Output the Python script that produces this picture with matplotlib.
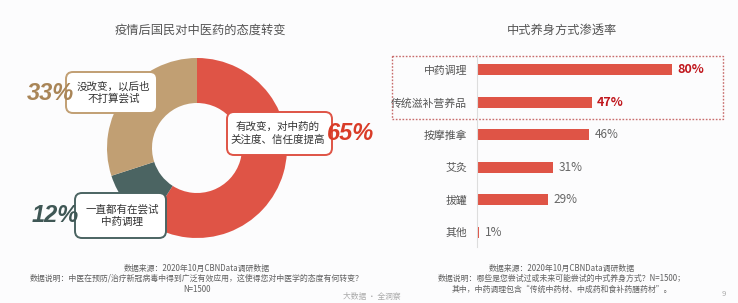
import matplotlib
matplotlib.use("Agg")
import matplotlib.pyplot as plt
from matplotlib.patches import FancyBboxPatch, Rectangle

plt.rcParams['font.family'] = ['Noto Sans CJK SC', 'DejaVu Sans']

# ---- data ----
pie_title = "疫情后国民对中医药的态度转变"
pie_labels = ["有改变，对中药的\n关注度、信任度提高", "一直都有在尝试\n中药调理", "没改变，以后也\n不打算尝试"]
pie_values = [65, 12, 33]
pie_colors = ["#DF5446", "#4B6462", "#C19F73"]

bar_title = "中式养身方式渗透率"
bar_cats = ["中药调理", "传统滋补营养品", "按摩推拿", "艾灸", "拔罐", "其他"]
bar_vals = [80, 47, 46, 31, 29, 1]
highlight = [True, True, False, False, False, False]

W, H = 738, 303
bg = "#FCFCFD"
fig = plt.figure(figsize=(W / 100, H / 100), dpi=100, facecolor=bg)

def fx(px):
    return px / W

def fy(py):
    return 1 - py / H

# ---- donut ----
cx, cy, R = 197, 148, 90
axp = fig.add_axes([fx(cx - R), fy(cy + R), 2 * R / W, 2 * R / H])
axp.pie(pie_values, colors=pie_colors, startangle=90, counterclock=False,
        radius=1, wedgeprops=dict(width=0.5, edgecolor='none'))
axp.set_xlim(-1, 1)
axp.set_ylim(-1, 1)
axp.set_aspect('auto')
axp.axis('off')

# ---- overlay axes in pixel coords ----
ov = fig.add_axes([0, 0, 1, 1], facecolor='none')
ov.set_xlim(0, W)
ov.set_ylim(H, 0)
ov.axis('off')

ov.text(200, 30, pie_title, ha='center', va='center', fontsize=8.8, color='#555555')

# label boxes: (x0, y0, x1, y1), pct position, pct alignment
boxes = [
    ((227, 112, 332, 155), (327, 133), 'left'),
    ((75, 193, 166, 238), (79, 216), 'right'),
    ((66, 72, 157, 113), (74, 94), 'right'),
]
pct_colors = ["#D93C28", "#3F5755", "#A98557"]
for (x0, y0, x1, y1), (px, py), al, lab, val, col, pc in zip(
        [b[0] for b in boxes], [b[1] for b in boxes], [b[2] for b in boxes],
        pie_labels, pie_values, pie_colors, pct_colors):
    ov.add_patch(FancyBboxPatch((x0, y0), x1 - x0, y1 - y0,
                                boxstyle="round,pad=0,rounding_size=7",
                                facecolor='white', edgecolor=col, lw=1.4, zorder=3))
    ov.text((x0 + x1) / 2 + (2 if al == 'right' else -2), (y0 + y1) / 2, lab,
            ha='center', va='center',
            fontsize=7.6, color='#333333', linespacing=1.25, zorder=4)
    ov.text(px, py, f"{val}%", ha=al, va='center', fontsize=17,
            fontweight='bold', style='italic', color=pc,
            family=['Liberation Sans', 'DejaVu Sans'], zorder=5)

foot_l = ["数据来源：2020年10月CBNData调研数据",
          "数据说明：中医在预防/治疗新冠病毒中得到广泛有效应用，这使得您对中医学的态度有何转变？",
          "N=1500"]
for i, t in enumerate(foot_l):
    ov.text(197, 268 + i * 10.5, t, ha='center', va='center', fontsize=5.7, color='#606060')

# ---- bars ----
ax0, ax1 = 477, 721
ay0, ay1 = 55, 247
axb = fig.add_axes([fx(ax0), fy(ay1), (ax1 - ax0) / W, (ay1 - ay0) / H], facecolor='none')
ypos = list(range(len(bar_cats)))
axb.barh(ypos, bar_vals, height=0.34, color="#DF5446", edgecolor='none')
axb.set_xlim(0, 100)
axb.set_ylim(len(bar_cats) - 1 + 0.46, -0.46)
axb.set_yticks(ypos)
axb.set_yticklabels(bar_cats, fontsize=7.8, color='#555555')
axb.tick_params(axis='y', length=0, pad=7)
axb.set_xticks([])
for s in ['top', 'right', 'bottom']:
    axb.spines[s].set_visible(False)
axb.spines['left'].set_color('#DDDDDD')
axb.spines['left'].set_linewidth(0.8)
for y, v, h in zip(ypos, bar_vals, highlight):
    axb.annotate(f"{v}%", (v, y), xytext=(4, 0), textcoords='offset points',
                 ha='left', va='center', fontsize=9 if h else 8.5,
                 fontweight='bold' if h else 'normal',
                 color='#C0161C' if h else '#666666', annotation_clip=False)

ov.text(562, 30, bar_title, ha='center', va='center', fontsize=8.8, color='#555555')
ov.add_patch(Rectangle((392, 56), 331, 63, fill=False, edgecolor='#C86B6B',
                       lw=1.0, linestyle=(0, (1.2, 1.2)), zorder=2))

foot_r = ["数据来源：2020年10月CBNData调研数据",
          "数据说明：哪些是您尝试过或未来可能尝试的中式养身方式？N=1500；",
          "其中，中药调理包含“传统中药材、中成药和食补药膳药材”。"]
for i, t in enumerate(foot_r):
    ov.text(562, 268 + i * 10.5, t, ha='center', va='center', fontsize=5.7, color='#606060')

ov.text(372, 297, "大数据 · 全洞察", ha='center', va='center', fontsize=5.6, color='#AAAAAA')
ov.text(724, 294, "9", ha='center', va='center', fontsize=5.6, color='#AAAAAA')

fig.savefig("out.png", dpi=100, facecolor=bg)
